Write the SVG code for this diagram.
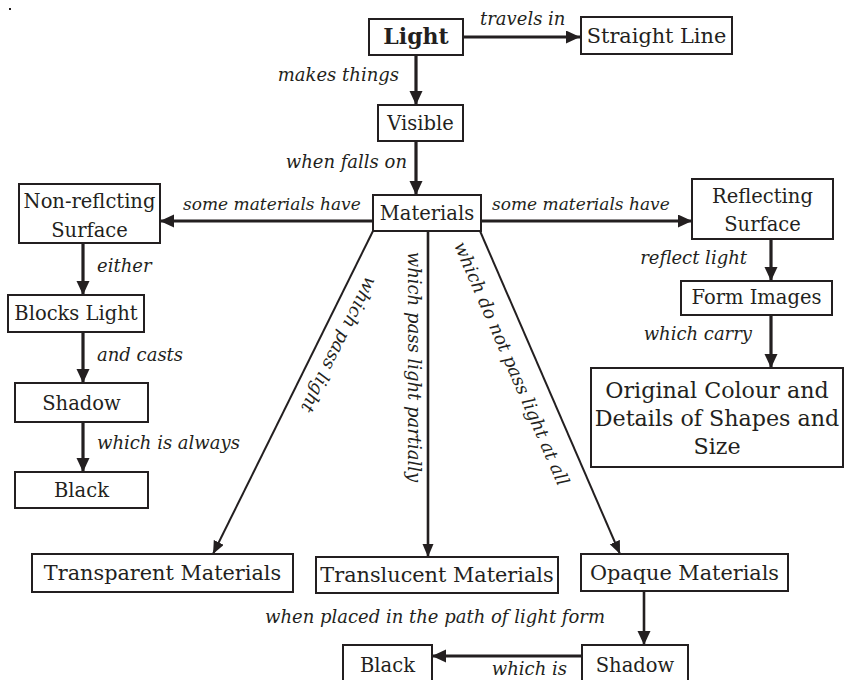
<svg xmlns="http://www.w3.org/2000/svg" width="849" height="680" viewBox="0 0 849 680">
<style>
.bg{fill:#ffffff}
.box{fill:#ffffff;stroke:#231f20;stroke-width:2}
.nt{font-family:"DejaVu Serif","Liberation Serif",serif;font-size:19.5px;fill:#231f20;text-anchor:middle}
.big{font-size:20.8px}
.huge{font-size:22.2px}
.bold{font-weight:bold;font-size:22px}
.lb{font-family:"DejaVu Serif","Liberation Serif",serif;font-style:italic;font-size:18px;fill:#231f20}
.sm{font-size:17px}
.end{text-anchor:end}
.mid{text-anchor:middle}
.c{stroke:#231f20;stroke-width:3.2;fill:none;marker-end:url(#ah)}
.t{stroke:#231f20;stroke-width:2;fill:none;marker-end:url(#ahs)}
</style>
<defs>
<marker id="ah" markerUnits="userSpaceOnUse" markerWidth="15" markerHeight="14" refX="14" refY="6.5" orient="auto">
<path d="M0,0 L14,6.5 L0,13 z" fill="#231f20"/>
</marker>
<marker id="ahs" markerUnits="userSpaceOnUse" markerWidth="14" markerHeight="12" refX="13" refY="5.5" orient="auto">
<path d="M0,0 L13,5.5 L0,11 z" fill="#231f20"/>
</marker>
</defs>
<rect class="bg" x="0" y="0" width="849" height="680"/>
<rect x="9" y="8" width="2" height="2" fill="#231f20"/>

<g id="connectors">
<line class="c" x1="463" y1="37" x2="580" y2="37"/>
<line class="c" x1="416" y1="55" x2="416" y2="105"/>
<line class="c" x1="416" y1="141" x2="416" y2="195"/>
<line class="c" x1="373" y1="221" x2="160" y2="221"/>
<line class="c" x1="481" y1="221" x2="692" y2="221"/>
<line class="c" x1="83" y1="243" x2="83" y2="295"/>
<line class="c" x1="83" y1="332" x2="83" y2="383"/>
<line class="c" x1="83" y1="422" x2="83" y2="472"/>
<line class="c" x1="771" y1="239" x2="771" y2="281"/>
<line class="c" x1="771" y1="315" x2="771" y2="368"/>
<line class="t" x1="373" y1="231" x2="213" y2="554"/>
<line class="t" x1="428" y1="231" x2="428" y2="557" style="stroke-width:2.6"/>
<line class="t" x1="480" y1="231" x2="620" y2="554"/>
<line class="c" x1="644" y1="591" x2="644" y2="645" style="stroke-width:2.6"/>
<line class="c" x1="582" y1="656" x2="432" y2="656"/>

<text class="lb" x="480" y="25">travels in</text>
<text class="lb end" x="399" y="81">makes things</text>
<text class="lb end" x="407" y="168">when falls on</text>
<text class="lb sm" x="183" y="210">some materials have</text>
<text class="lb sm" x="492" y="210">some materials have</text>
<text class="lb" x="97" y="272">either</text>
<text class="lb" x="97" y="361">and casts</text>
<text class="lb" x="97" y="449">which is always</text>
<text class="lb end" x="747" y="264">reflect light</text>
<text class="lb end" x="752" y="340">which carry</text>
<text class="lb mid" transform="translate(333.5,342) rotate(116.4)">which pass light</text>
<text class="lb mid" transform="translate(408,367) rotate(90)">which pass light partially</text>
<text class="lb mid" transform="translate(506,366) rotate(66.6)">which do not pass light at all</text>
<text class="lb" x="265" y="623">when placed in the path of light form</text>
<text class="lb end" x="567" y="675">which is</text>
</g>

<g id="n-light"><rect class="box" x="369" y="19" width="94" height="36"/><text class="nt bold" x="416" y="44">Light</text></g>
<g id="n-straight"><rect class="box" x="581" y="17" width="151" height="37"/><text class="nt big" x="656.5" y="43">Straight Line</text></g>
<g id="n-visible"><rect class="box" x="378" y="105" width="85" height="36"/><text class="nt" x="420.5" y="130">Visible</text></g>
<g id="n-materials"><rect class="box" x="373" y="195" width="108" height="36"/><text class="nt" x="427" y="220">Materials</text></g>
<g id="n-nonreflecting"><rect class="box" x="19" y="184" width="141" height="59"/><text class="nt" x="89.5" y="208">Non-reflcting</text><text class="nt" x="89.5" y="237">Surface</text></g>
<g id="n-reflecting"><rect class="box" x="692" y="179" width="141" height="60"/><text class="nt" x="762.5" y="203">Reflecting</text><text class="nt" x="762.5" y="231">Surface</text></g>
<g id="n-blocks"><rect class="box" x="8" y="295" width="136" height="37"/><text class="nt" x="76" y="320">Blocks Light</text></g>
<g id="n-shadow1"><rect class="box" x="15" y="383" width="133" height="39"/><text class="nt" x="81.5" y="410">Shadow</text></g>
<g id="n-black1"><rect class="box" x="15" y="472" width="133" height="36"/><text class="nt" x="81.5" y="497">Black</text></g>
<g id="n-form"><rect class="box" x="681" y="281" width="151" height="34"/><text class="nt" x="756.5" y="304">Form Images</text></g>
<g id="n-original"><rect class="box" x="591" y="368" width="252" height="99"/><text class="nt huge" x="717" y="398">Original Colour and</text><text class="nt huge" x="717" y="426">Details of Shapes and</text><text class="nt huge" x="717" y="454">Size</text></g>
<g id="n-transparent"><rect class="box" x="32" y="554" width="261" height="38"/><text class="nt big" x="162.5" y="580">Transparent Materials</text></g>
<g id="n-translucent"><rect class="box" x="316" y="557" width="242" height="36"/><text class="nt big" x="437" y="582">Translucent Materials</text></g>
<g id="n-opaque"><rect class="box" x="581" y="554" width="207" height="37"/><text class="nt big" x="684.5" y="580">Opaque Materials</text></g>
<g id="n-shadow2"><rect class="box" x="582" y="645" width="106" height="40"/><text class="nt" x="635" y="672">Shadow</text></g>
<g id="n-black2"><rect class="box" x="343" y="645" width="89" height="40"/><text class="nt" x="387.5" y="672">Black</text></g>
</svg>
